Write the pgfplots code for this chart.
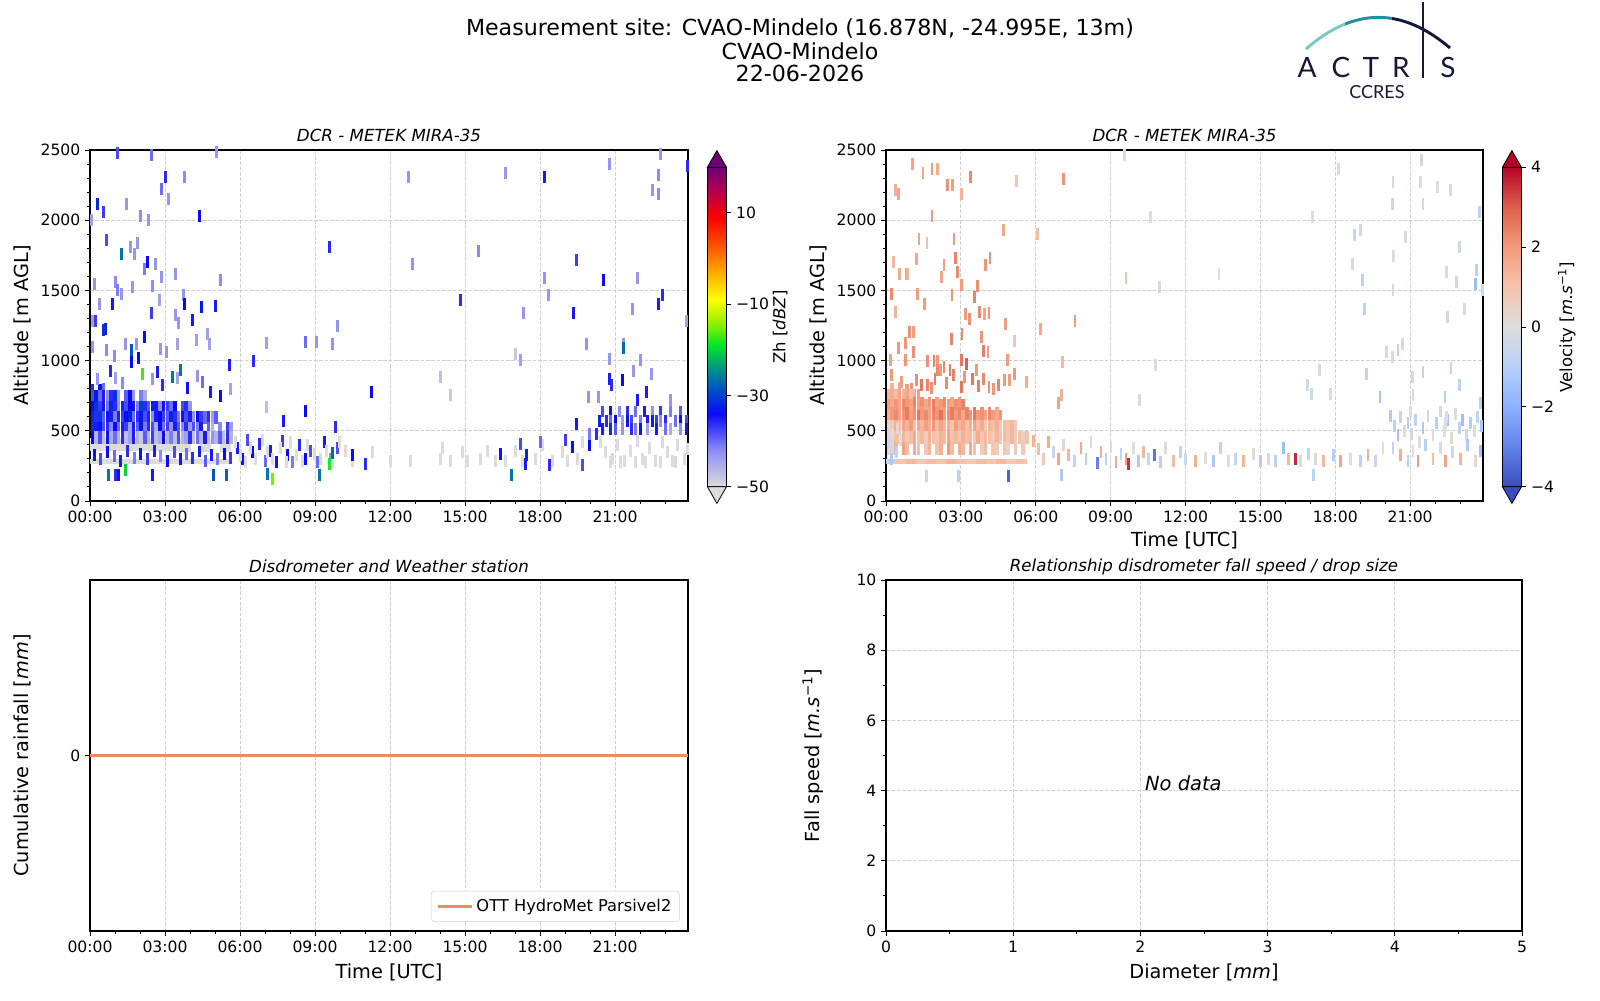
\documentclass[border=0pt]{standalone}
\usepackage{fontspec}
\setmainfont{DejaVu Sans}
\newfontfamily\logofont{Lato}
\usepackage{pgfplots}
\pgfplotsset{compat=1.18}

\definecolor{gridc}{RGB}{208,208,208}
\definecolor{navy}{RGB}{22,24,56}
\definecolor{tealA}{RGB}{120,200,200}
\definecolor{tealB}{RGB}{40,140,160}
\definecolor{lineor}{RGB}{239,138,105}
\definecolor{zhtop}{RGB}{110,0,115}
\definecolor{zhbot}{RGB}{220,220,220}
\definecolor{vtop}{RGB}{180,4,38}
\definecolor{vbot}{RGB}{59,76,192}

\pgfplotsset{
  colormap={zh}{rgb255(0cm)=(220,220,220) rgb255(8cm)=(140,140,245) rgb255(16cm)=(10,10,250) rgb255(22cm)=(0,90,190) rgb255(26cm)=(0,150,130) rgb255(31cm)=(0,230,40) rgb255(36cm)=(150,240,0) rgb255(41cm)=(255,255,0) rgb255(47cm)=(255,170,0) rgb255(53cm)=(255,80,0) rgb255(59cm)=(255,0,0) rgb255(64cm)=(190,0,70) rgb255(70cm)=(110,0,120)},
  colormap={cw}{rgb255(0cm)=(59,76,192) rgb255(1cm)=(98,130,234) rgb255(2cm)=(141,176,254) rgb255(3cm)=(184,208,249) rgb255(4cm)=(221,221,221) rgb255(5cm)=(245,196,173) rgb255(6cm)=(244,154,123) rgb255(7cm)=(222,96,77) rgb255(8cm)=(180,4,38)},
  base/.style={
    scale only axis,
    axis line style={line width=0.8pt},
    tick align=outside,
    xtick pos=bottom, ytick pos=left,
    major tick length=3.7pt, minor tick length=2.1pt,
    tick style={black, line width=0.7pt},
    tick label style={font=\fontsize{11.7}{13}\selectfont},
    label style={font=\fontsize{14.5}{16}\selectfont},
    title style={font=\fontsize{12.5}{14}\selectfont\itshape, at={(0.5,1)}, anchor=base, yshift=0pt},
    grid=major,
    major grid style={gridc, line width=0.6pt, dash pattern=on 2.8pt off 1.2pt},
    /pgf/number format/assume math mode=true,
    /pgf/number format/1000 sep={},
    scaled ticks=false,
  },
  timex/.style={xmin=0, xmax=23.92, xtick={0,3,...,21},
    xticklabels={00:00,03:00,06:00,09:00,12:00,15:00,18:00,21:00},
    minor xtick={1,2,4,5,7,8,10,11,13,14,16,17,19,20,22,23}},
  radary/.style={ymin=0, ymax=2500, ytick={0,500,...,2500}, minor y tick num=4, ylabel={Altitude [m AGL]}},
  rmark/.style={scatter, only marks, mark=square*, point meta=explicit,
    scatter/use mapped color={draw=mapped color, fill=mapped color}},
  cbstyle/.style={at={(parent axis.south east)}, anchor=south west, xshift=6pt, yshift=10.7pt,
    width=14.3pt, height=239.6pt, tick align=outside, major tick length=3.7pt,
    tick style={black, line width=0.7pt}, axis line style={line width=0.6pt},
    ytick pos=right, yticklabel pos=right, ylabel shift=-4pt,
    tick label style={font=\fontsize{11.7}{13}\selectfont},
    ylabel style={font=\fontsize{12.4}{14}\selectfont}},
}

\begin{document}
\begin{tikzpicture}[x=0.75pt, y=0.75pt]
\path[use as bounding box] (0,0) rectangle (1600,1000);

% ---------------- Top-left: reflectivity ----------------
\begin{axis}[base, timex, radary, at={(67.5pt,374.25pt)}, anchor=south west,
  width=448.5pt, height=263.25pt, title={DCR - METEK MIRA-35},
  colormap name=zh, point meta min=-50, point meta max=20,
  colorbar, colorbar style={cbstyle, name=cbz, ytick={-50,-30,-10,10},
    yticklabels={−50,−30,−10,10}, ylabel={Zh [\textit{dBZ}]}}]
% grey band
\addplot[rmark, mark size=4.5pt, mark options={xscale=0.83, line width=0.2pt}] coordinates {
(0.2,405)[-50] (0.6,405)[-50] (1.0,405)[-50] (1.4,405)[-50] (1.8,405)[-50] (2.2,405)[-50] (2.6,405)[-50] (3.0,405)[-50] (3.4,405)[-50] (3.8,400)[-50] (4.6,400)[-50] (5.4,400)[-50]
};
\addplot[rmark, mark size=1.6pt, mark options={xscale=2.4, line width=0.2pt}] coordinates {
(0.2,283)[-50] (0.6,283)[-50] (1.0,283)[-50] (1.4,283)[-50] (1.8,283)[-50] (2.2,283)[-50] (2.6,283)[-50] (3.0,283)[-50] (3.4,283)[-50] (3.8,283)[-50] (4.2,283)[-50] (4.6,283)[-50] (5.0,283)[-50] (5.4,283)[-50]
};
% dense blue band
\addplot[rmark, mark size=4.5pt, mark options={xscale=0.21, line width=0.2pt}] coordinates {
(0.08,790)[-36] (0.38,790)[-33] (0.53,795)[-40]
(0.08,745)[-38] (0.23,745)[-33] (0.38,745)[-40] (0.53,745)[-35] (0.68,745)[-42] (0.83,745)[-36] (0.98,745)[-31] (1.13,745)[-44] (1.43,745)[-39] (1.58,745)[-34] (1.73,745)[-43] (2.03,745)[-41] (2.18,745)[-45]
(0.08,670)[-34] (0.23,670)[-31] (0.38,670)[-37] (0.53,670)[-33] (0.68,670)[-40] (0.83,670)[-32] (0.98,670)[-36] (1.13,670)[-43] (1.28,670)[-31] (1.43,670)[-38] (1.58,670)[-34] (1.73,670)[-33] (1.88,670)[-41] (2.03,670)[-30] (2.18,670)[-36] (2.33,670)[-39] (2.48,670)[-32] (2.63,670)[-35] (2.78,670)[-42] (2.93,670)[-33] (3.08,670)[-37] (3.23,670)[-40] (3.38,670)[-34] (3.68,670)[-38] (3.83,670)[-36] (3.98,670)[-43]
(0.08,595)[-32] (0.23,595)[-36] (0.38,595)[-30] (0.53,595)[-39] (0.68,595)[-33] (0.83,595)[-35] (0.98,595)[-41] (1.13,595)[-31] (1.28,595)[-37] (1.43,595)[-34] (1.58,595)[-32] (1.73,595)[-40] (1.88,595)[-36] (2.03,595)[-33] (2.18,595)[-38] (2.33,595)[-31] (2.48,595)[-42] (2.63,595)[-35] (2.78,595)[-34] (2.93,595)[-37] (3.08,595)[-39] (3.23,595)[-32] (3.38,595)[-36] (3.53,595)[-41] (3.68,595)[-33] (3.83,595)[-38] (3.98,595)[-35] (4.13,595)[-43] (4.28,595)[-34] (4.43,595)[-37] (4.58,595)[-40] (4.73,595)[-36] (4.88,595)[-44] (5.03,595)[-39]
(0.08,520)[-31] (0.23,520)[-35] (0.38,520)[-33] (0.53,520)[-38] (0.68,520)[-36] (0.83,520)[-42] (0.98,520)[-34] (1.13,520)[-40] (1.28,520)[-32] (1.43,520)[-37] (1.58,520)[-44] (1.73,520)[-35] (1.88,520)[-39] (2.03,520)[-33] (2.18,520)[-41] (2.33,520)[-36] (2.48,520)[-38] (2.63,520)[-45] (2.78,520)[-34] (2.93,520)[-40] (3.08,520)[-37] (3.23,520)[-43] (3.38,520)[-35] (3.53,520)[-39] (3.68,520)[-42] (3.83,520)[-36] (3.98,520)[-44] (4.13,520)[-38] (4.28,520)[-41] (4.43,520)[-35] (4.73,520)[-39] (4.88,520)[-46] (5.18,520)[-42] (5.48,520)[-37] (5.63,520)[-44]
(0.08,455)[-34] (0.23,455)[-46] (0.38,455)[-38] (0.53,455)[-47] (0.68,455)[-33] (0.83,455)[-45] (0.98,455)[-40] (1.13,455)[-46] (1.28,455)[-36] (1.43,455)[-47] (1.58,455)[-44] (1.73,455)[-35] (1.88,455)[-46] (2.03,455)[-48] (2.18,455)[-39] (2.33,455)[-46] (2.48,455)[-37] (2.63,455)[-47] (2.78,455)[-45] (2.93,455)[-34] (3.08,455)[-46] (3.23,455)[-41] (3.38,455)[-47] (3.53,455)[-38] (3.68,455)[-46] (3.83,455)[-44] (3.98,455)[-36] (4.13,455)[-47] (4.28,455)[-40] (4.43,455)[-46] (4.58,455)[-35] (4.73,455)[-47] (4.88,455)[-43] (5.03,455)[-46] (5.18,455)[-39] (5.33,455)[-47] (5.48,455)[-36] (5.63,455)[-46]
};
% streaks
\addplot[rmark, mark size=4.1pt, mark options={xscale=0.17, line width=0.2pt}] coordinates {
(0.15,330)[-33] (0.4,300)[-38] (0.7,350)[-34] (0.95,320)[-40] (1.2,290)[-32] (1.5,360)[-36] (1.75,310)[-41] (2.0,340)[-33] (2.3,300)[-37] (2.55,360)[-35] (2.8,320)[-42] (3.1,290)[-34] (3.35,350)[-38] (3.6,300)[-33] (3.85,340)[-40] (4.1,310)[-36] (4.35,355)[-32] (4.6,290)[-39] (4.85,330)[-35] (5.1,300)[-41] (5.35,340)[-34] (5.6,310)[-37] (5.9,380)[-35] (6.1,300)[-33] (6.3,440)[-38] (6.5,350)[-34] (6.75,410)[-36] (7.0,290)[-40] (7.2,360)[-35] (7.45,280)[-33] (7.7,430)[-37] (7.9,330)[-34] (8.1,280)[-41] (8.35,400)[-36] (8.6,300)[-34] (8.8,360)[-38] (9.1,280)[-40] (9.35,420)[-35] (9.6,300)[-42] (9.9,380)[-38]
(5.8,420)[-50] (6.0,330)[-50] (6.2,280)[-50] (6.4,380)[-50] (6.6,300)[-50] (6.9,440)[-50] (7.1,350)[-50] (7.3,300)[-50] (7.6,380)[-50] (7.85,280)[-50] (8.0,420)[-50] (8.25,330)[-50] (8.5,290)[-50] (8.7,400)[-50] (8.95,340)[-50] (9.2,300)[-50] (9.45,360)[-50] (9.7,280)[-50] (9.95,420)[-50] (10.2,360)[-50]
(10.5,290)[-50] (11.3,350)[-50] (12.0,290)[-50] (12.8,290)[-50] (14.0,300)[-50] (14.1,380)[-50] (14.4,290)[-50] (14.9,350)[-50] (15.1,290)[-50] (15.6,300)[-50] (15.9,360)[-50] (16.2,290)[-50] (16.6,290)[-50] (17.0,360)[-50] (17.3,290)[-50] (17.8,300)[-50] (18.1,400)[-50] (18.5,290)[-50] (18.9,350)[-50] (19.1,290)[-50] (19.5,300)[-50] (19.7,420)[-50]
(11.0,268)[-36] (10.5,328)[-34] (16.4,340)[-33] (17.2,410)[-38] (17.45,328)[-32] (17.4,268)[-35] (18.35,256)[-36] (18.0,422)[-40] (19.0,434)[-37] (19.3,387)[-33] (19.7,256)[-38] (19.95,399)[-34] (19.45,553)[-35] (19.95,482)[-41] (20.25,482)[-36]
(20.4,420)[-50] (20.6,350)[-50] (20.9,300)[-50] (21.1,400)[-50] (21.35,290)[-50] (21.6,360)[-50] (21.9,430)[-50] (22.1,300)[-50] (22.35,380)[-50] (22.6,290)[-50] (22.9,420)[-50] (23.1,350)[-50] (23.3,290)[-50] (23.5,400)[-50] (23.75,300)[-50] (23.9,370)[-50] (20.8,283)[-50] (21.2,283)[-50] (21.8,283)[-50] (22.2,283)[-50] (22.8,283)[-50] (23.4,283)[-50]
(20.5,640)[-38] (20.8,640)[-33] (21.15,640)[-42] (21.5,640)[-36] (21.8,640)[-40] (22.15,640)[-35] (22.5,640)[-43] (22.8,640)[-37] (23.2,640)[-41] (23.6,640)[-39]
(20.35,575)[-32] (20.65,575)[-36] (20.8,575)[-40] (21.0,575)[-34] (21.3,575)[-44] (21.5,575)[-33] (21.65,575)[-38] (22.0,575)[-41] (22.3,575)[-35] (22.5,575)[-32] (22.65,575)[-37] (22.8,575)[-42] (23.0,575)[-36] (23.4,575)[-40] (23.6,575)[-34] (23.85,575)[-38]
(20.5,515)[-35] (20.8,515)[-31] (21.0,515)[-39] (21.3,515)[-43] (21.65,515)[-36] (21.8,515)[-41] (22.0,515)[-33] (22.3,515)[-44] (22.65,515)[-35] (23.0,515)[-40] (23.2,515)[-45] (23.6,515)[-42] (23.85,515)[-33]
(1.07,2481)[-38] (2.44,2464)[-40] (5.05,2488)[-43] (2.99,2310)[-36] (3.76,2310)[-42] (2.83,2227)[-40] (3.12,2151)[-43] (0.30,2120)[-32] (1.46,2120)[-43] (0.54,2060)[-37] (2.02,2030)[-42] (2.32,2001)[-43] (4.36,2030)[-34] (0.05,2001)[-44] (0.65,1859)[-38] (1.23,1764)[-26] (1.59,1811)[-43] (1.88,1840)[-43] (1.75,1764)[-43] (2.28,1705)[-34] (2.17,1657)[-41] (2.60,1688)[-43] (2.83,1598)[-43] (3.39,1622)[-43] (5.21,1574)[-42] (0.18,1546)[-43] (0.99,1562)[-42] (1.24,1479)[-43] (1.07,1503)[-41] (1.69,1527)[-43] (2.47,1531)[-42] (3.73,1467)[-43] (0.89,1408)[-35] (0.38,1408)[-43] (3.77,1408)[-34] (4.46,1384)[-33] (5.02,1389)[-35] (2.77,1432)[-44] (2.44,1341)[-37] (3.41,1330)[-43] (4.09,1294)[-35] (3.54,1270)[-43] (0.08,1282)[-44] (0.19,1282)[-37] (0.61,1230)[-33] (0.53,1218)[-31] (4.67,1189)[-44] (2.18,1170)[-34] (4.25,1151)[-44] (1.42,1123)[-43] (1.83,1123)[-43] (1.64,1075)[-28] (2.80,1087)[-43] (3.47,1123)[-44] (4.78,1123)[-44] (3.06,1064)[-43] (0.10,1099)[-43] (0.65,1080)[-42] (1.94,1019)[-34] (0.97,1033)[-42] (1.66,992)[-34]
(6.54,1000)[-36] (7.04,1128)[-44] (8.60,1135)[-40] (9.03,1135)[-43] (9.68,1123)[-43] (9.55,1811)[-36] (9.89,1249)[-43] (12.71,2310)[-43] (12.87,1688)[-43] (14.81,1432)[-36] (15.52,1781)[-42] (16.61,2339)[-43] (18.18,2310)[-35] (18.15,1591)[-43] (18.34,1467)[-43] (17.33,1341)[-43] (19.32,1341)[-35] (19.43,1721)[-37] (17.0,1052)[-48] (17.2,1004)[-44] (19.84,1123)[-43] (20.51,1574)[-34] (20.75,2405)[-43] (21.70,1372)[-43] (21.89,1591)[-43] (22.47,2215)[-43] (22.72,2322)[-42] (22.74,2191)[-42] (22.79,2471)[-43] (23.90,2386)[-36] (22.88,1467)[-36] (22.71,1408)[-35] (23.85,1284)[-44] (21.32,1123)[-43] (21.32,1094)[-27] (20.75,1016)[-43] (21.99,1004)[-43] (20.77,874)[-35] (20.83,826)[-36] (21.29,862)[-34] (21.73,928)[-43] (22.45,909)[-43] (22.26,779)[-35] (19.92,743)[-43] (20.33,743)[-43] (21.89,719)[-35] (23.20,719)[-43]
(14.01,886)[-47] (14.41,755)[-48] (11.26,779)[-34] (8.60,643)[-34] (7.71,570)[-35] (9.79,529)[-36] (7.04,672)[-47] (5.57,969)[-35] (5.19,748)[-34] (2.07,909)[-17] (3.28,886)[-26] (3.60,933)[-26] (2.67,921)[-35] (2.47,874)[-43] (3.50,880)[-44]
(0.3,870)[-43] (0.8,930)[-36] (1.3,840)[-42] (2.9,830)[-36] (3.9,810)[-33] (4.5,850)[-40] (4.8,780)[-35] (5.6,800)[-44] (4.3,890)[-43] (1.0,880)[-44]
(0.72,185)[-26] (1.39,221)[-20] (1.00,185)[-36] (1.12,185)[-33] (2.48,185)[-35] (4.94,185)[-28] (5.45,185)[-27] (7.10,197)[-26] (7.28,161)[-15] (9.16,185)[-26] (9.55,268)[-18] (9.68,344)[-27] (16.85,185)[-26]
};
\end{axis}

% ---------------- Top-right: velocity ----------------
\begin{axis}[base, timex, radary, at={(664.5pt,374.25pt)}, anchor=south west,
  width=447.75pt, height=263.25pt, title={DCR - METEK MIRA-35}, xlabel={Time [UTC]},
  colormap name=cw, point meta min=-4, point meta max=4,
  colorbar, colorbar style={cbstyle, name=cbv, ytick={-4,-2,0,2,4},
    yticklabels={−4,−2,0,2,4}, ylabel={Velocity [\textit{m.s}\textsuperscript{−1}]}}]
\addplot[rmark, mark size=1.6pt, mark options={xscale=2.4, line width=0.2pt}] coordinates {
(0.2,283)[-0.8] (0.6,283)[1.0] (1.0,283)[1.3] (1.4,283)[0.9] (1.8,283)[1.2] (2.2,283)[1.0] (2.6,283)[1.4] (3.0,283)[1.1] (3.4,283)[0.9] (3.8,283)[1.2] (4.2,283)[1.0] (4.6,283)[1.3] (5.0,283)[0.9] (5.4,283)[1.1]
};
\addplot[rmark, mark size=4.5pt, mark options={xscale=0.21, line width=0.2pt}] coordinates {
(0.23,800)[1.4] (0.53,805)[1.7] (0.83,790)[1.9] (1.0,800)[2.1]
(0.08,755)[1.3] (0.23,755)[1.6] (0.38,755)[1.2] (0.53,755)[1.8] (0.68,755)[1.4] (0.83,755)[1.7] (0.98,755)[1.1] (1.13,755)[1.5] (1.28,755)[1.9]
(0.08,680)[1.9] (0.23,700)[1.6] (0.38,680)[2.1] (0.53,700)[1.7] (0.68,680)[2.3] (0.83,700)[2.0] (0.98,680)[1.8] (1.13,700)[2.4] (1.28,680)[1.9] (1.43,700)[2.2] (1.58,680)[1.7] (1.73,700)[2.1] (1.88,680)[2.5] (2.03,700)[1.8] (2.18,680)[2.0] (2.33,700)[2.3] (2.48,680)[1.9] (2.63,700)[1.7] (2.78,680)[2.2] (2.93,700)[2.0] (3.08,680)[2.4]
(0.08,605)[1.5] (0.23,625)[2.0] (0.38,605)[2.3] (0.53,625)[1.8] (0.68,605)[2.1] (0.83,625)[2.5] (0.98,605)[1.9] (1.13,625)[2.2] (1.28,605)[2.6] (1.43,625)[2.0] (1.58,605)[2.3] (1.73,625)[1.8] (1.88,605)[2.4] (2.03,625)[2.1] (2.18,605)[2.7] (2.33,625)[1.9] (2.48,605)[2.2] (2.63,625)[2.5] (2.78,605)[2.0] (2.93,625)[2.3] (3.08,605)[1.7] (3.23,625)[2.4] (3.38,605)[2.1] (3.53,625)[2.6] (3.68,605)[1.9] (3.83,625)[2.2] (3.98,605)[1.8] (4.13,625)[2.3] (4.28,605)[2.0] (4.43,625)[1.7] (4.58,605)[2.1]
(0.08,530)[0.3] (0.23,530)[0.6] (0.38,530)[1.6] (0.53,530)[1.2] (0.68,530)[1.8] (0.83,530)[1.4] (0.98,530)[2.0] (1.13,530)[1.1] (1.28,530)[1.7] (1.43,530)[1.3] (1.58,530)[1.9] (1.73,530)[1.5] (1.88,530)[2.1] (2.03,530)[1.2] (2.18,530)[1.8] (2.33,530)[1.4] (2.48,530)[1.6] (2.63,530)[1.0] (2.78,530)[1.9] (2.93,530)[1.3] (3.08,530)[1.7] (3.23,530)[1.1] (3.38,530)[1.5] (3.53,530)[1.8] (3.68,530)[1.2] (3.83,530)[1.6] (3.98,530)[0.9] (4.13,530)[1.4] (4.28,530)[1.1] (4.43,530)[1.5] (4.58,530)[0.8] (4.73,530)[1.2] (4.88,530)[1.0] (5.03,530)[1.3] (5.18,530)[0.7]
(0.08,455)[0.2] (0.23,455)[0.4] (0.38,455)[1.1] (0.53,455)[0.8] (0.68,455)[1.4] (0.83,455)[0.9] (0.98,455)[1.2] (1.13,455)[1.6] (1.28,455)[1.0] (1.43,455)[1.3] (1.58,455)[0.7] (1.73,455)[1.5] (1.88,455)[1.1] (2.03,455)[0.9] (2.18,455)[1.4] (2.33,455)[1.2] (2.48,455)[1.7] (2.63,455)[1.0] (2.78,455)[1.3] (2.93,455)[0.8] (3.08,455)[1.5] (3.23,455)[1.1] (3.38,455)[1.2] (3.53,455)[0.9] (3.68,455)[1.6] (3.83,455)[1.0] (3.98,455)[1.3] (4.13,455)[1.1] (4.28,455)[0.8] (4.43,455)[1.4] (4.58,455)[1.0] (4.73,455)[1.2] (4.88,455)[0.9] (5.03,455)[1.3] (5.18,455)[0.7] (5.33,455)[1.1] (5.48,455)[0.6] (5.63,455)[1.0]
(0.08,380)[0.1] (0.23,380)[-0.3] (0.38,380)[1.5] (0.68,380)[1.8] (0.83,380)[1.2] (1.13,380)[1.6] (1.28,380)[1.1] (1.58,380)[0.8] (1.73,380)[1.4] (2.03,380)[1.0] (2.18,380)[1.5] (2.48,380)[2.0] (2.63,380)[1.2] (2.93,380)[1.6] (3.08,380)[1.3] (3.38,380)[1.7] (3.53,380)[1.1] (3.83,380)[0.6] (3.98,380)[1.2] (4.28,380)[0.9] (4.43,380)[0.7] (4.73,380)[1.0] (4.88,380)[0.5] (5.18,380)[0.8] (5.48,380)[0.9]
};
\addplot[rmark, mark size=4.1pt, mark options={xscale=0.17, line width=0.2pt}] coordinates {
(0.1,420)[-0.4] (0.25,480)[0.1] (0.4,350)[-0.7] (0.55,440)[0.0] (0.2,300)[-1.2] (0.45,520)[0.2]
(5.9,430)[1.5] (6.1,370)[1.2] (6.3,300)[0.8] (6.5,420)[1.6] (6.7,350)[-0.5] (6.9,300)[1.8] (7.1,400)[0.3] (7.3,330)[1.4] (7.55,290)[-0.8] (7.8,380)[1.7] (8.0,300)[-1.0] (8.2,420)[0.2] (8.45,270)[-3.0] (8.6,350)[1.5] (8.8,300)[-0.9] (9.0,390)[0.1] (9.2,280)[1.6] (9.4,340)[-0.7] (9.6,300)[2.0] (9.7,265)[3.5] (9.9,380)[0.0] (10.1,290)[-1.2] (10.3,350)[1.3] (10.5,300)[-0.6] (10.75,330)[-3.2] (11.0,280)[-1.0] (11.2,380)[0.1] (11.5,290)[1.2] (11.8,350)[-0.8] (12.0,300)[-0.4] (12.4,290)[1.5] (12.8,310)[0.1] (13.1,290)[-1.3] (13.4,380)[-0.9] (13.7,290)[0.0] (14.0,300)[-0.7] (14.3,290)[1.4] (14.7,340)[0.1] (15.0,290)[-1.1] (15.3,300)[0.2] (15.6,290)[-0.9] (15.9,380)[-1.6] (16.1,300)[1.2] (16.4,300)[3.6] (16.6,290)[0.1] (16.9,340)[-0.8] (17.2,300)[0.2] (17.5,290)[1.3] (17.9,330)[-1.0] (18.2,290)[1.7] (18.6,300)[0.0] (19.0,290)[-0.9] (19.3,330)[1.5] (19.6,290)[-0.6] (19.9,380)[0.1]
(20.2,610)[-1.2] (20.35,540)[-0.9] (20.5,470)[-1.5] (20.6,600)[-0.6] (20.75,500)[0.0] (20.9,560)[-1.1] (21.0,640)[0.1] (21.05,480)[-0.4] (21.2,580)[-0.8] (21.35,420)[0.0] (21.5,520)[-1.3] (21.7,610)[-0.5] (21.9,470)[0.2] (22.05,560)[-1.0] (22.2,640)[-0.3] (22.35,500)[0.0] (22.5,580)[-1.4] (22.65,450)[0.3] (22.8,620)[0.0] (22.95,520)[-0.9] (23.1,580)[-1.6] (23.25,470)[-0.4] (23.4,560)[-1.1] (23.55,500)[0.1] (23.7,600)[-0.8] (23.85,540)[-1.3] (22.4,560)[0.0] (22.45,600)[0.0]
(20.3,380)[-0.7] (20.6,330)[1.6] (20.9,290)[-0.9] (21.1,360)[0.0] (21.3,290)[2.0] (21.6,400)[-1.0] (21.9,300)[1.2] (22.2,380)[0.0] (22.4,290)[1.8] (22.7,350)[-0.5] (23.0,300)[1.4] (23.3,400)[-1.2] (23.6,290)[0.2] (23.8,360)[-1.5]
(1.04,2405)[1.8] (1.47,2339)[1.7] (1.83,2369)[2.0] (2.04,2369)[1.6] (2.44,2251)[2.2] (2.66,2251)[1.9] (3.37,2310)[2.3] (0.35,2215)[1.5] (0.49,2187)[1.8] (3.0,2191)[1.4] (5.22,2282)[1.0] (7.11,2298)[2.1] (1.83,2030)[2.0] (4.71,1935)[1.7] (6.06,1902)[1.2] (1.31,1871)[1.8] (2.71,1871)[2.0] (1.63,1840)[1.2] (4.15,1733)[2.2] (2.76,1733)[2.4] (0.30,1705)[1.3] (2.31,1686)[1.9] (3.96,1686)[2.1] (0.54,1622)[1.6] (0.80,1622)[1.9] (0.86,1622)[1.5] (2.84,1633)[2.3] (2.20,1598)[1.8] (1.20,1728)[1.7] (3.64,1531)[2.2] (3.0,1538)[2.0] (0.21,1479)[2.3] (1.26,1479)[1.9] (2.63,1467)[2.1] (3.52,1455)[2.4] (0.37,1348)[1.4] (3.16,1337)[2.0] (3.73,1348)[2.3] (3.94,1337)[1.8] (4.11,1341)[2.1] (3.33,1301)[2.2] (1.52,1408)[2.0] (4.77,1265)[1.9] (6.19,1230)[1.7] (7.56,1282)[1.9] (0.93,1206)[2.2] (1.07,1206)[2.0] (3.03,1189)[2.3] (3.81,1170)[2.1] (5.14,1142)[1.0] (2.60,1159)[2.4] (0.78,1128)[2.1] (0.49,1094)[2.0] (1.07,1064)[2.2] (3.89,1071)[2.5] (4.07,1064)[2.0] (0.16,1004)[1.9] (0.78,1004)[2.1] (4.85,1004)[2.0] (7.05,992)[1.3] (3.0,1004)[2.6] (1.64,1000)[2.2] (1.91,1000)[2.4] (2.06,1000)[2.0]
(2.31,957)[2.3] (2.55,933)[2.5] (1.20,862)[2.2] (2.70,897)[2.4] (3.13,886)[2.1] (3.46,874)[2.6] (3.62,938)[2.0] (3.88,874)[2.3] (4.11,814)[2.2] (4.50,826)[2.4] (4.72,867)[2.0] (5.12,909)[2.1] (4.94,867)[1.9] (2.04,933)[2.3] (2.17,933)[2.0] (1.95,874)[2.5] (3.22,981)[3.0] (1.64,826)[2.4] (1.82,807)[2.2] (3.0,814)[2.6] (4.3,800)[2.1] (3.7,820)[2.5] (2.4,840)[2.3] (1.4,830)[2.6] (0.6,850)[1.9] (0.2,900)[2.0] (5.6,850)[1.6] (6.9,700)[1.8] (7.0,760)[1.4]
(9.54,2464)[0.1] (18.13,2369)[-0.2] (20.30,2274)[-0.2] (21.40,2274)[-0.1] (21.45,2429)[-0.3] (22.07,2239)[0.0] (22.60,2215)[-0.2] (20.29,2115)[-0.3] (21.50,2115)[-0.2] (23.75,2061)[-0.9] (10.59,2025)[0.0] (17.08,2025)[-0.1] (18.98,1930)[-0.3] (18.74,1900)[-0.6] (20.81,1883)[-0.2] (22.97,1811)[-0.3] (20.32,1745)[-0.1] (18.69,1688)[-0.2] (23.65,1650)[-1.0] (22.44,1633)[-0.2] (23.59,1550)[-1.6] (22.84,1562)[-0.3] (13.33,1622)[-0.1] (10.96,1527)[-0.2] (9.60,1593)[1.0] (19.09,1574)[-0.8] (20.30,1503)[-0.2] (23.9,1503)[-0.3] (19.17,1372)[-0.9] (23.16,1372)[-0.2] (22.48,1313)[-0.3] (20.69,1123)[-0.2] (20.50,1080)[-0.9] (20.05,1064)[-0.3] (20.29,1028)[-0.2] (10.78,969)[-0.1] (17.34,938)[-0.2] (19.22,909)[-0.8] (21.50,921)[-0.7] (22.62,952)[-0.8] (21.07,886)[-0.2] (10.14,719)[-0.1] (17.02,767)[-0.3] (17.79,767)[-0.2] (19.78,743)[-1.4] (16.86,826)[-0.2] (22.97,826)[-0.8] (22.38,743)[-0.9] (23.8,700)[-1.0] (21.1,760)[-0.2]
(4.9,180)[-3.6] (2.9,180)[-1.0] (1.6,180)[0.6] (7.0,185)[-1.2] (17.1,190)[-0.8]
};
\end{axis}

% ---------------- Bottom-left: rainfall ----------------
\begin{axis}[base, timex, at={(67.5pt,51.75pt)}, anchor=south west,
  width=448.5pt, height=263.25pt, title={Disdrometer and Weather station},
  xlabel={Time [UTC]}, ylabel={Cumulative rainfall [\textit{mm}]},
  ylabel style={at={(axis description cs:-0.113,0.5)}, anchor=center},
  xlabel style={yshift=-2pt},
  ymin=-1, ymax=1, ytick={0},
  legend style={at={(1,0)}, anchor=south east, xshift=-6.3pt, yshift=7pt,
    draw=gridc, rounded corners=2.5pt, fill=white,
    font=\fontsize{12.2}{14}\selectfont, inner xsep=4pt, inner ysep=4pt},
  legend cell align=left,
  legend image code/.code={\draw[#1] (0pt,0pt) -- (26pt,0pt);}]
\addplot[lineor, line width=2pt] coordinates {(0,0) (23.92,0)};
\addlegendentry{OTT HydroMet Parsivel2}
\end{axis}

% ---------------- Bottom-right: fall speed / size ----------------
\begin{axis}[base, at={(664.5pt,51.75pt)}, anchor=south west,
  width=477pt, height=263.25pt, title={Relationship disdrometer fall speed / drop size},
  xlabel={Diameter [\textit{mm}]}, ylabel={Fall speed [\textit{m.s}\textsuperscript{−1}]},
  ylabel style={at={(axis description cs:-0.115,0.5)}, anchor=center},
  xlabel style={yshift=-2pt},
  xmin=0, xmax=5, ymin=0, ymax=10, xtick={0,1,...,5}, minor x tick num=1,
  ytick={0,2,...,10}, minor y tick num=1]
\node[anchor=base west, font=\fontsize{14.6}{16}\selectfont\itshape] at (axis cs:2,4) {No data};
\end{axis}

% colorbar extension triangles
\filldraw[fill=zhtop, draw=black, line width=0.6pt] (cbz.north west) -- ([yshift=12.5pt]cbz.north) -- (cbz.north east) -- cycle;
\filldraw[fill=zhbot, draw=black, line width=0.6pt] (cbz.south west) -- ([yshift=-12.5pt]cbz.south) -- (cbz.south east) -- cycle;
\filldraw[fill=vtop, draw=black, line width=0.6pt] (cbv.north west) -- ([yshift=12.5pt]cbv.north) -- (cbv.north east) -- cycle;
\filldraw[fill=vbot, draw=black, line width=0.6pt] (cbv.south west) -- ([yshift=-12.5pt]cbv.south) -- (cbv.south east) -- cycle;

% main title
\node[anchor=base, font=\fontsize{16.6}{19}\selectfont] at (800,964) {Measurement site: CVAO-Mindelo (16.878N, -24.995E, 13m)};
\node[anchor=base, font=\fontsize{16.6}{19}\selectfont] at (800,940.7) {CVAO-Mindelo};
\node[anchor=base, font=\fontsize{16.6}{19}\selectfont] at (800,918.3) {22-06-2026};

% logo
\def\arcpath{(1306,951) .. controls (1354,993) and (1402,993) .. (1450,952)}
\begin{scope}\clip (1290,930) rectangle (1345,1000); \draw[tealA, line width=2.2pt] \arcpath; \end{scope}
\begin{scope}\clip (1345,930) rectangle (1392,1000); \draw[tealB, line width=2.2pt] \arcpath; \end{scope}
\begin{scope}\clip (1392,930) rectangle (1460,1000); \draw[navy, line width=2.2pt] \arcpath; \end{scope}
\draw[navy, line width=1.9pt] (1423,922) -- (1423,998);
\foreach \xx/\ll in {1307/A,1341/C,1371/T,1401/R,1448/S}
  \node[anchor=base, text=navy, font=\logofont\fontsize{21}{21}\selectfont, inner sep=0pt] at (\xx,922) {\ll};
\node[anchor=base, text=navy, font=\logofont\fontsize{13.5}{14}\selectfont, inner sep=0pt] at (1377,901) {CCRES};
\end{tikzpicture}
\end{document}
